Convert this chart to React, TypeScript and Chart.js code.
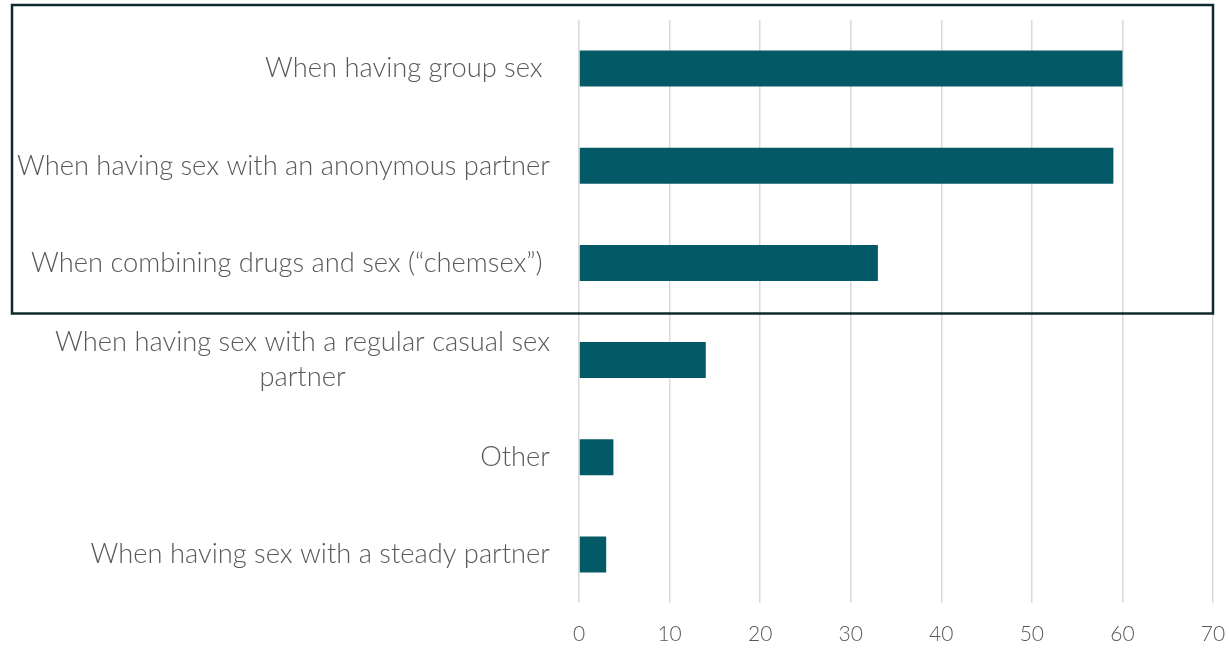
import React, { useEffect, useRef } from "react";
import { Chart, registerables } from "chart.js";

Chart.register(...registerables);

const categories: (string | string[])[] = [
  "When having group sex ",
  "When having sex with an anonymous partner",
  "When combining drugs and sex (“chemsex”) ",
  ["When having sex with a regular casual sex", "partner"],
  "Other",
  "When having sex with a steady partner",
];
const values = [60, 59, 33, 14, 3.8, 3];
const xTicks = [0, 10, 20, 30, 40, 50, 60, 70];
const highlightedCount = 3;

const FONT = "Lato, 'Open Sans', sans-serif";
const LABEL_SIZE = 27.3;
const LABEL_LINE = 35;
const LABEL_GAP = 29;

const boxPlugin = {
  id: "highlightBox",
  afterDraw(chart: any) {
    const y = chart.scales.y;
    const area = chart.chartArea;
    const ctx = chart.ctx;
    const half = (y.getPixelForTick(1) - y.getPixelForTick(0)) / 2;
    const top = y.getPixelForTick(0) - half - 15;
    const bottom = y.getPixelForTick(highlightedCount - 1) + half + 2;
    ctx.save();
    ctx.strokeStyle = "#0f2a2f";
    ctx.lineWidth = 2.5;
    ctx.strokeRect(12, top, area.right - 12, bottom - top);
    ctx.restore();
  },
};

const labelPlugin = {
  id: "centeredLabels",
  afterDraw(chart: any) {
    const y = chart.scales.y;
    const ctx = chart.ctx;
    const right = chart.chartArea.left - LABEL_GAP;
    ctx.save();
    ctx.font = `300 ${LABEL_SIZE}px ${FONT}`;
    ctx.fillStyle = "#595959";
    ctx.textBaseline = "middle";
    categories.forEach((lab, i) => {
      const lines = Array.isArray(lab) ? lab : [lab];
      const cy = y.getPixelForTick(i);
      if (lines.length === 1) {
        ctx.textAlign = "right";
        ctx.fillText(lines[0], right, cy);
        return;
      }
      const maxW = Math.max(...lines.map((l) => ctx.measureText(l).width));
      const cx = right - maxW / 2;
      ctx.textAlign = "center";
      lines.forEach((l, j) => {
        const ly = cy + (j - (lines.length - 1) / 2) * LABEL_LINE;
        ctx.fillText(l, cx, ly);
      });
    });
    ctx.restore();
  },
};

export default function App() {
  const ref = useRef<HTMLCanvasElement>(null);
  useEffect(() => {
    if (!ref.current) return;
    const chart = new Chart(ref.current, {
      type: "bar",
      data: {
        labels: categories,
        datasets: [
          {
            data: values,
            backgroundColor: "#035a66",
            barPercentage: 0.74,
            categoryPercentage: 0.5,
          },
        ],
      },
      options: {
        indexAxis: "y",
        animation: false,
        responsive: true,
        maintainAspectRatio: false,
        layout: { padding: { left: 0, right: 16, top: 20, bottom: 0 } },
        plugins: { legend: { display: false }, tooltip: { enabled: false } },
        scales: {
          x: {
            min: 0,
            max: 70,
            afterBuildTicks(scale: any) {
              scale.ticks = xTicks.map((v) => ({ value: v }));
            },
            afterFit(scale: any) {
              scale.height = 46;
              scale.paddingLeft = 0;
              scale.paddingRight = 0;
            },
            border: { display: false },
            grid: { color: "#d9d9d9", lineWidth: 1.5, drawTicks: false },
            ticks: {
              color: "#595959",
              font: { family: FONT, size: 21, weight: 300 },
              padding: 19,
            },
          },
          y: {
            afterFit(scale: any) {
              scale.width = 579;
              scale.paddingTop = 0;
              scale.paddingBottom = 0;
            },
            border: { display: false },
            grid: { display: false, drawTicks: false },
            ticks: { display: false },
          },
        },
      },
      plugins: [labelPlugin, boxPlugin],
    });
    return () => chart.destroy();
  }, []);
  return (
    <div style={{ position: "fixed", left: 0, top: 0, width: 1229, height: 649, background: "#fff" }}>
      <canvas ref={ref} />
    </div>
  );
}
